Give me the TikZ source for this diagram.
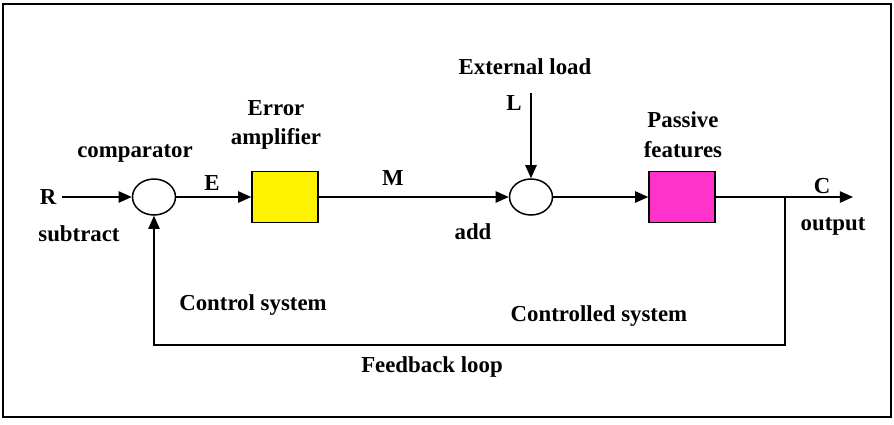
\documentclass[tikz,border=0pt]{standalone}
\usepackage{fontspec}
\setmainfont{Liberation Serif}
\usetikzlibrary{arrows.meta,shapes.geometric}
\definecolor{passive}{RGB}{255,51,204}
\tikzset{
  sumpt/.style={draw, ellipse, line width=0.85pt, minimum width=0.86cm, minimum height=0.72cm, inner sep=0pt},
  blk/.style={draw, line width=0.85pt, minimum width=1.32cm, minimum height=1.02cm, inner sep=0pt},
  sig/.style={line width=0.85pt},
  tip/.style={-{Triangle[length=7.5pt,width=6.5pt]}}
}
\begin{document}
\begin{tikzpicture}[x=0.02cm, y=-0.02cm, every node/.style={font=\fontsize{13}{17}\selectfont\bfseries}]
    \useasboundingbox (0,0) rectangle (894,424);
    \draw[line width=0.85pt] (3,4) rectangle (891,417);
    % blocks
    \node[sumpt] (cmp) at (154,197) {};
    \node[blk, fill=yellow] (amp) at (285,197) {};
    \node[sumpt] (add) at (531,197) {};
    \node[blk, fill=passive] (pas) at (682,197) {};
    % signal ends
    \node (R) at (48,197) {R};
    \coordinate (lin) at (531,93);
    \coordinate (cout) at (853,197);
    \coordinate (br) at (785,197);
    \coordinate (fb) at (785,345);
    % connectors
    \draw[sig, tip] (R.east) -- (cmp.west);
    \draw[sig, tip] (cmp.east) -- (amp.west);
    \draw[sig, tip] (amp.east) -- (add.west);
    \draw[sig, tip] (lin) -- (add.north);
    \draw[sig, tip] (add.east) -- (pas.west);
    \draw[sig, tip] (pas.east) -- (cout);
    \draw[sig, tip] (br) -- (fb) -| (cmp.south);
    % labels
    \node (lE) at (212,183) {E};
    \node (lM) at (393,178) {M};
    \node (lL) at (514,103) {L};
    \node (lC) at (822,186) {C};
    \node (lcmp) at (135,153) {comparator};
    \node (lsub) at (79,234) {subtract};
    \node (lamp) at (276,125) [align=center] {Error\\amplifier};
    \node (lext) at (525,67) {External load};
    \node (ladd) at (473,232) {add};
    \node (lpas) at (683,135) [align=center] {Passive\\features};
    \node (lout) at (833,226) {output};
    \node (lcs) at (253,305) {Control system};
    \node (lcd) at (599,316) {Controlled system};
    \node (lfb) at (432,367) {Feedback loop};
\end{tikzpicture}
\end{document}
